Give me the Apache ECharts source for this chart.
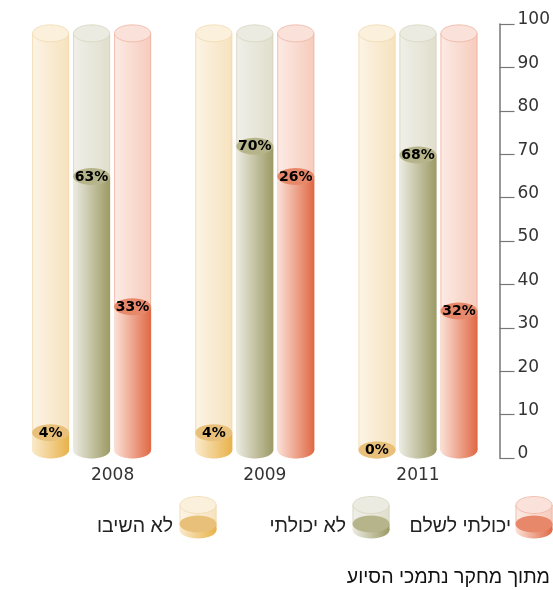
<!DOCTYPE html>
<html><head><meta charset="utf-8">
<script src="https://cdn.jsdelivr.net/npm/echarts@6/dist/echarts.min.js"></script>
<style>html,body{margin:0;padding:0;background:#fff}#c{width:553px;height:590px}</style>
</head><body><div id="c"></div>
<script>
// ---- data ----
const years = ['2008', '2009', '2011'];
const seriesNames = ['לא השיבו', 'לא יכולתי', 'יכולתי לשלם'];
const notAnswered = [4, 4, 0];
const couldNot = [63, 70, 68];
const couldPay = [33, 63, 32];           // bar heights as drawn in the picture
const notAnsweredLabels = ['4%', '4%', '0%'];
const couldNotLabels = ['63%', '70%', '68%'];
const couldPayLabels = ['33%', '26%', '32%'];
const yTickValues = [0, 10, 20, 30, 40, 50, 60, 70, 80, 90, 100];
const sourceText = 'מתוך מחקר נתמכי הסיוע';
const bgLevel = 96;

// ---- styles ----
const FONT = '"DejaVu Sans", "Liberation Sans", sans-serif';
const HEB_FONT = '"Liberation Sans", "DejaVu Sans", sans-serif';
const palettes = [
  { bgL: '#fcf4e6', bgR: '#f6e2bd', bgTop: '#fbf0dc', bgStroke: '#f1dbb0',
    fL: '#faeacb', fR: '#e8b24a', fTop: '#e9c07a' },
  { bgL: '#f0efe9', bgR: '#e0dfcc', bgTop: '#ecebe1', bgStroke: '#d8d6c0',
    fL: '#ecebe2', fR: '#9c9a64', fTop: '#b6b48a' },
  { bgL: '#fcebe5', bgR: '#f6cbbc', bgTop: '#fae2da', bgStroke: '#efb5a2',
    fL: '#fbe1d7', fR: '#e06844', fTop: '#e8886a' }
];
const valuesList = [notAnswered, couldNot, couldPay];
const labelsList = [notAnsweredLabels, couldNotLabels, couldPayLabels];
const W = 37, RX = 18.5, RY = 8.5, DEPTH = 8, GAP = 41;

function hgrad(a, b) {
  return { type: 'linear', x: 0, y: 0, x2: 1, y2: 0, colorStops: [{ offset: 0, color: a }, { offset: 1, color: b }] };
}

function makeSeries(si) {
  const p = palettes[si];
  const labels = labelsList[si];
  return {
    type: 'custom',
    name: seriesNames[si],
    data: valuesList[si].map((v, i) => [i, v]),
    encode: { x: 0, y: 1 },
    renderItem: function (params, api) {
      const i = api.value(0), v = api.value(1);
      const base = api.coord([i, 0]);
      const cx = base[0] + (si - 1) * GAP;
      const y0 = base[1] - DEPTH;
      const yv = api.coord([i, v])[1] - DEPTH;
      const yb = api.coord([i, bgLevel])[1] - DEPTH;
      const children = [
        { type: 'ellipse', shape: { cx: cx, cy: y0, rx: RX, ry: RY }, style: { fill: hgrad(p.bgL, p.bgR) } },
        { type: 'rect', shape: { x: cx - RX, y: yb, width: W, height: y0 - yb }, style: { fill: hgrad(p.bgL, p.bgR) } },
        { type: 'polyline', shape: { points: [[cx - RX + 0.5, yb], [cx - RX + 0.5, y0]] }, style: { stroke: p.bgStroke, lineWidth: 0.8, fill: null } },
        { type: 'polyline', shape: { points: [[cx + RX - 0.5, yb], [cx + RX - 0.5, y0]] }, style: { stroke: p.bgStroke, lineWidth: 0.8, fill: null } },
        { type: 'ellipse', shape: { cx: cx, cy: yb, rx: RX - 0.4, ry: RY }, style: { fill: p.bgTop, stroke: p.bgStroke, lineWidth: 0.8 } },
        { type: 'ellipse', shape: { cx: cx, cy: y0, rx: RX, ry: RY }, style: { fill: hgrad(p.fL, p.fR) } },
        { type: 'rect', shape: { x: cx - RX, y: yv, width: W, height: Math.max(0, y0 - yv) }, style: { fill: hgrad(p.fL, p.fR) } },
        { type: 'ellipse', shape: { cx: cx, cy: yv, rx: RX, ry: RY }, style: { fill: p.fTop } },
        { type: 'text', style: { text: labels[i], x: cx, y: yv + 0.5, align: 'center', verticalAlign: 'middle',
            font: 'bold 14px ' + FONT, fill: '#000' } }
      ];
      return { type: 'group', children: children };
    },
    z: 2
  };
}

// legend icons
function legendIcon(si, cx, top) {
  const p = palettes[si];
  const yt = top + 8, yf = top + 27, yb = top + 33;
  return [
    { type: 'ellipse', shape: { cx: cx, cy: yb, rx: RX, ry: RY }, style: { fill: hgrad(p.fL, p.fR) } },
    { type: 'rect', shape: { x: cx - RX, y: yt, width: W, height: yf - yt }, style: { fill: hgrad(p.bgL, p.bgR) } },
    { type: 'polyline', shape: { points: [[cx - RX + 0.5, yt], [cx - RX + 0.5, yf]] }, style: { stroke: p.bgStroke, lineWidth: 0.8, fill: null } },
    { type: 'polyline', shape: { points: [[cx + RX - 0.5, yt], [cx + RX - 0.5, yf]] }, style: { stroke: p.bgStroke, lineWidth: 0.8, fill: null } },
    { type: 'ellipse', shape: { cx: cx, cy: yt, rx: RX - 0.4, ry: RY }, style: { fill: p.bgTop, stroke: p.bgStroke, lineWidth: 0.8 } },
    { type: 'rect', shape: { x: cx - RX, y: yf, width: W, height: yb - yf }, style: { fill: hgrad(p.fL, p.fR) } },
    { type: 'ellipse', shape: { cx: cx, cy: yf, rx: RX, ry: RY }, style: { fill: p.fTop } }
  ];
}
const legendX = [198, 371, 534];
const legendTextRight = [173, 346, 511];
const legendTop = 497;
let graphics = [];
for (let s = 0; s < 3; s++) {
  graphics = graphics.concat(legendIcon(s, legendX[s], legendTop));
  graphics.push({ type: 'text', style: { text: seriesNames[s], x: legendTextRight[s], y: 527, align: 'right', verticalAlign: 'middle',
    font: '19.5px ' + HEB_FONT, fill: '#222' } });
}
graphics.push({ type: 'text', style: { text: sourceText, x: 550, y: 578, align: 'right', verticalAlign: 'middle',
  font: '19.5px ' + HEB_FONT, fill: '#111' } });

const numRich = { fontSize: 17, color: '#333', fontFamily: 'DejaVu Sans' };
const chart = echarts.init(document.getElementById('c'), null, { renderer: 'canvas' });
chart.setOption({
  animation: false,
  backgroundColor: '#fff',
  grid: { left: 10, right: 51, top: 24, bottom: 132, containLabel: false },
  xAxis: {
    type: 'category', data: years,
    axisLine: { show: false }, axisTick: { show: false },
    axisLabel: {
      margin: 9,
      formatter: function (v, idx) { return '{p' + idx + '|' + v + '}'; },
      rich: {
        p0: Object.assign({ padding: [0, 0, 0, 42] }, numRich),
        p1: Object.assign({ padding: [0, 0, 0, 20] }, numRich),
        p2: Object.assign({ padding: [0, 0, 0, 0] }, numRich)
      }
    }
  },
  yAxis: {
    type: 'value', position: 'right', min: yTickValues[0], max: yTickValues[yTickValues.length - 1], interval: 10,
    axisLine: { show: true, lineStyle: { color: '#777', width: 1.5 } },
    axisTick: { show: true, length: 15, lineStyle: { color: '#777', width: 1.2 } },
    axisLabel: { margin: 18, color: '#333', fontSize: 17, fontFamily: 'DejaVu Sans', verticalAlign: 'bottom', lineHeight: 8 },
    splitLine: { show: false }
  },
  series: [makeSeries(0), makeSeries(1), makeSeries(2)],
  graphic: graphics
});
</script>
</body></html>
